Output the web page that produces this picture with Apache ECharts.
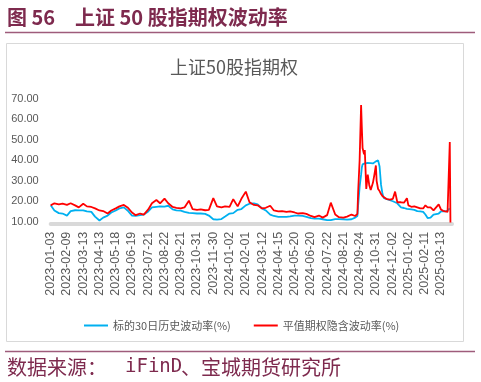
<!DOCTYPE html>
<html>
<head>
<meta charset="utf-8">
<script src="https://cdn.jsdelivr.net/npm/echarts/dist/echarts.min.js"></script>
<style>
html,body{margin:0;padding:0;background:#fff;}
#c{width:481px;height:382px;}
</style>
</head>
<body>
<div id="c"></div>
<script>
// X tick labels (every 22 trading days)
const tickLabels = ['2023-01-03','2023-02-09','2023-03-13','2023-04-13','2023-05-18','2023-06-19','2023-07-21','2023-08-22','2023-09-21','2023-10-31','2023-11-30','2024-01-02','2024-02-01','2024-03-12','2024-04-15','2024-05-20','2024-06-20','2024-07-22','2024-08-21','2024-09-24','2024-10-31','2024-12-02','2025-01-02','2025-02-11','2025-03-13'];
const yTicks = [10, 20, 30, 40, 50, 60, 70];
// trading-day index of each sampled point
const dayIdx = [0,5,11,16,22,27,33,38,44,49,55,60,66,71,77,82,88,93,99,104,110,115,121,126,132,137,143,148,154,159,165,170,176,181,187,192,198,203,209,214,220,225,231,236,242,247,253,258,264,269,275,280,286,291,297,302,308,313,319,324,330,335,341,346,352,357,363,368,374,379,385,390,396,401,407,
412,415,416,418,420,421,422,424,425,427,429,431,433,436,438,440,441,443,445,447,449,451,
455,459,463,466,469,474,478,482,484,488,492,496,500,504,507,510,514,518,520,525,528,531,534,537,539,540,541];
// 标的30日历史波动率(%)
const hv = [18.0,15.5,14.2,14.0,13.0,15.2,15.6,15.5,15.5,15.0,14.8,12.5,10.6,12.0,13.0,14.5,15.5,16.5,17.0,15.5,13.0,12.8,13.2,13.5,15.0,17.0,17.3,17.5,17.4,17.8,16.0,15.5,15.4,14.8,14.3,14.2,14.0,14.0,13.8,13.0,11.2,11.0,11.3,12.5,14.0,14.2,15.8,16.2,18.0,18.8,19.0,18.5,16.5,15.5,13.5,12.8,12.4,12.4,12.4,12.6,13.0,13.0,12.8,12.4,11.8,11.5,11.5,11.2,10.8,10.8,11.3,11.3,11.2,11.0,11.2,
12.0,12.8,18.0,27.0,33.0,36.5,38.0,38.5,38.5,38.5,38.7,38.7,38.6,38.5,38.8,39.5,40.2,40.0,37.0,28.0,23.5,21.5,
21.0,20.5,20.0,19.5,19.0,17.0,16.7,16.3,16.0,16.0,15.8,15.2,15.0,14.8,13.5,11.8,12.0,13.5,13.5,14.0,15.0,15.2,15.0,15.5,15.5,16.5,null];
// 平值期权隐含波动率(%)
const iv = [18.0,19.0,18.5,18.8,18.2,19.0,18.0,17.0,18.8,17.5,17.2,16.5,15.5,15.2,14.0,15.5,16.5,17.5,18.2,17.0,14.5,13.2,14.0,13.5,16.0,19.0,20.6,19.0,21.3,19.0,17.2,16.8,16.5,17.0,20.3,16.2,15.8,16.0,15.6,15.8,21.5,17.5,17.0,17.5,17.2,21.0,17.5,21.2,24.7,19.5,18.2,18.0,16.5,16.8,17.8,15.5,15.0,15.2,14.8,15.0,14.5,14.0,14.2,13.8,12.8,12.2,13.0,12.0,13.2,19.3,13.5,12.2,12.0,12.5,13.5,
12.8,13.8,24.5,40.0,67.0,56.0,46.0,43.0,45.0,26.0,33.0,28.0,25.5,29.0,33.0,37.5,30.0,26.0,25.0,23.5,22.5,22.0,
21.0,20.8,21.2,24.7,19.5,19.5,19.3,21.5,18.0,17.3,17.5,17.0,16.5,16.5,18.0,17.0,17.0,15.5,14.8,18.5,16.0,15.3,15.0,14.8,15.2,49.0,5.0];
const seriesNames = ['标的30日历史波动率(%)', '平值期权隐含波动率(%)'];

const chart = echarts.init(document.getElementById('c'), null, {renderer: 'canvas'});
const TICK_STEP = 22;
const MAROON = '#7E2A4E';
const LINE_MAROON = '#9E5C7B';

chart.setOption({
  backgroundColor: '#ffffff',
  animation: false,
  graphic: [
    {type: 'rect', shape: {x: 6.5, y: 43.5, width: 457, height: 298}, style: {fill: 'none', stroke: '#D9D9D9', lineWidth: 1}},
    {type: 'line', shape: {x1: 5, y1: 32.5, x2: 475, y2: 32.5}, style: {stroke: LINE_MAROON, lineWidth: 1.5}},
    {type: 'line', shape: {x1: 5, y1: 351.5, x2: 475, y2: 351.5}, style: {stroke: LINE_MAROON, lineWidth: 1.5}},
    {type: 'text', style: {text: '图 56', x: 7, y: 17, fill: MAROON, font: 'bold 20px "Noto Sans CJK SC"', textAlign: 'left', textVerticalAlign: 'middle'}},
    {type: 'text', style: {text: '上证 50 股指期权波动率', x: 75, y: 17, fill: MAROON, font: 'bold 20px "Noto Sans CJK SC"', textAlign: 'left', textVerticalAlign: 'middle'}},
    {type: 'text', style: {text: '上证50股指期权', x: 234, y: 67, fill: '#595959', font: '18px "Noto Sans CJK SC"', textAlign: 'center', textVerticalAlign: 'middle'}},
    {type: 'text', style: {text: '数据来源：', x: 7, y: 367, fill: MAROON, font: '20px "Noto Sans CJK SC"', textAlign: 'left', textVerticalAlign: 'middle'}},
    {type: 'text', style: {text: 'iFinD', x: 125, y: 367, fill: MAROON, font: '19px "DejaVu Sans Mono"', textAlign: 'left', textVerticalAlign: 'middle'}},
    {type: 'text', style: {text: '、宝城期货研究所', x: 181, y: 367, fill: MAROON, font: '20px "Noto Sans CJK SC"', textAlign: 'left', textVerticalAlign: 'middle'}}
  ],
  legend: {
    data: seriesNames,
    left: 79,
    top: 315,
    icon: 'rect',
    itemWidth: 24,
    itemHeight: 2,
    itemGap: 23,
    textStyle: {color: '#595959', fontSize: 11, fontFamily: '"Noto Sans CJK SC"'}
  },
  grid: {left: 50.7, right: 29, top: 99, bottom: 160.3, containLabel: false},
  xAxis: {
    type: 'value',
    min: 0,
    max: 543,
    interval: TICK_STEP,
    offset: 2,
    splitLine: {show: false},
    axisTick: {show: false},
    axisLine: {show: true, lineStyle: {color: '#D9D9D9', width: 4}},
    axisLabel: {
      rotate: 90,
      margin: 8,
      color: '#595959',
      fontSize: 12.5,
      fontFamily: '"Liberation Sans", Arial, sans-serif',
      formatter: function (v) {
        if (v % TICK_STEP !== 0) return '';
        const k = v / TICK_STEP;
        return k < tickLabels.length ? tickLabels[k] : '';
      }
    }
  },
  yAxis: {
    type: 'value',
    min: yTicks[0],
    max: yTicks[yTicks.length - 1],
    interval: 10,
    splitLine: {show: false},
    axisLine: {show: false},
    axisTick: {show: false},
    axisLabel: {
      margin: 12,
      color: '#595959',
      fontSize: 11,
      fontFamily: '"Liberation Sans", Arial, sans-serif',
      formatter: function (v) { return v.toFixed(2); }
    }
  },
  series: [
    {
      name: seriesNames[0], type: 'line', showSymbol: false, symbol: 'none', clip: true,
      color: '#00B0F0', lineStyle: {color: '#00B0F0', width: 1.8},
      data: dayIdx.map(function (d, i) { return [d, hv[i]]; })
    },
    {
      name: seriesNames[1], type: 'line', showSymbol: false, symbol: 'none', clip: true,
      color: '#FF0000', lineStyle: {color: '#FF0000', width: 1.8},
      data: dayIdx.map(function (d, i) { return [d, iv[i]]; })
    }
  ]
});
</script>
</body>
</html>
